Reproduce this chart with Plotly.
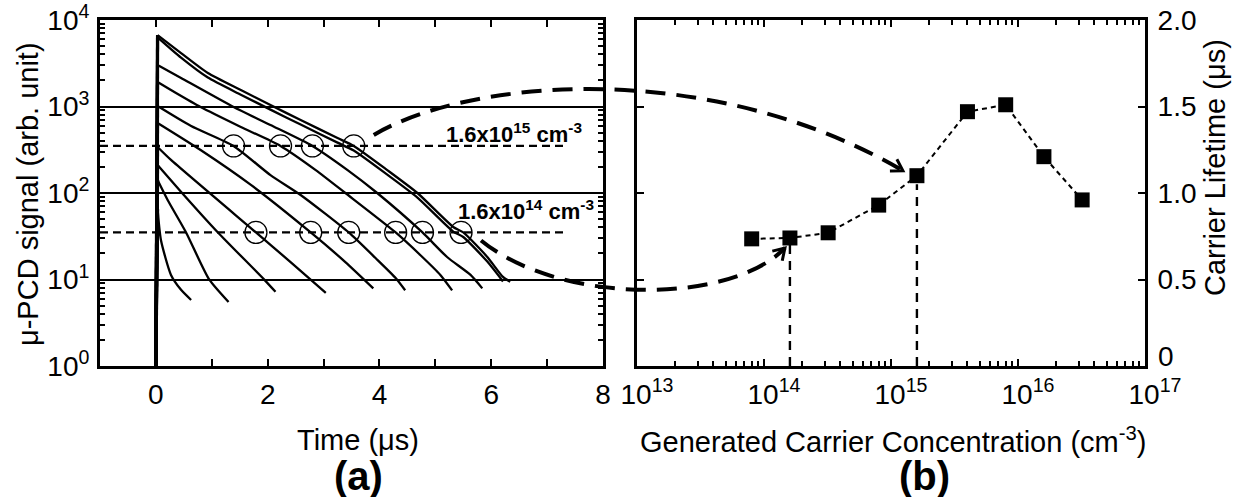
import math
import plotly.graph_objects as go

# ---------------- data: panel (a) decay curves (time in us, signal arb. unit) ----------------
t_A = [0, 0.03, 0.45, 0.93, 1.52, 2.05, 2.59, 3.25, 3.54, 4.14, 4.68, 5.32, 5.5, 5.93, 6.21, 6.34]
s_A = [1, 6700, 4150, 2440, 1550, 1040, 698, 432, 350, 184, 100, 40.5, 35, 18.2, 10.7, 9.4]
t_B = [0, 0.03, 0.45, 0.93, 1.52, 2.05, 2.59, 3.25, 3.54, 4.14, 4.68, 5.32, 5.5, 5.93, 6.21]
s_B = [1, 6300, 3670, 2160, 1370, 920, 618, 382, 310, 163, 88.5, 35.8, 31, 16.1, 9.5]
t_C = [0, 0.03, 0.45, 1.39, 2.05, 2.8, 3.43, 3.96, 4.77, 5.21, 5.63, 5.84]
s_C = [1, 3020, 2135, 987, 611, 350, 184, 100, 35, 18.2, 11.3, 7.9]
t_D = [0, 0.03, 0.36, 0.8, 1.52, 2.23, 2.86, 3.39, 4.29, 4.73, 5.09, 5.3]
s_D = [1, 1920, 1433, 987, 580, 350, 184, 100, 35, 19.2, 11.3, 7.5]
t_E = [0, 0.03, 0.63, 1.39, 2.05, 2.59, 3.45, 3.93, 4.29, 4.46]
s_E = [1, 1013, 595, 350, 161, 94.8, 35, 17.7, 10.4, 7.5]
t_F = [0, 0.03, 0.8, 1.7, 2.77, 3.39, 3.89]
s_F = [1, 645, 314, 124, 35, 15.9, 7.9]
t_G = [0, 0.03, 0.27, 1.79, 2.41, 3.04]
s_G = [1, 340, 241, 35, 15.9, 7.0]
t_H = [0, 0.03, 0.5, 1.11, 1.93, 2.14]
s_H = [1, 211, 95, 35, 10.1, 7.2]
t_I = [0, 0.03, 0.21, 0.54, 0.95, 1.3]
s_I = [1, 141, 83, 35, 10.1, 5.5]
t_J = [0, 0.03, 0.09, 0.27, 0.45, 0.63]
s_J = [1, 65, 28.6, 11.3, 7.6, 5.8]

# reference levels (corresponding to 1.6e15 and 1.6e14 cm^-3)
level_hi = 350
level_lo = 35
level_t = [-1, 7.3]
circ_hi_t = [1.39, 2.23, 2.8, 3.54]
circ_lo_t = [1.79, 2.77, 3.45, 4.29, 4.77, 5.46]

# ---------------- data: panel (b) ----------------
conc = [8e13, 1.6e14, 3.2e14, 8e14, 1.6e15, 4e15, 8e15, 1.6e16, 3.2e16]
lifetime = [0.735, 0.74, 0.77, 0.93, 1.10, 1.47, 1.51, 1.21, 0.96]
mark_conc = [1.6e14, 1.6e15]
mark_life = [0.70, 1.05]

# tick labels
a_xtickvals = [0, 2, 4, 6, 8]
a_xticktext = ["0", "2", "4", "6", "8"]
a_xminorvals = [1, 3, 5, 7]
a_ytickvals = [1, 10, 100, 1000, 10000]
a_yticktext = ["10<sup>0</sup>", "10<sup>1</sup>", "10<sup>2</sup>", "10<sup>3</sup>", "10<sup>4</sup>"]
b_xtickvals = [1e13, 1e14, 1e15, 1e16, 1e17]
b_xticktext = ["10<sup>13</sup>", "10<sup>14</sup>", "10<sup>15</sup>", "10<sup>16</sup>", "10<sup>17</sup>"]
b_ytickvals = [0, 0.5, 1.0, 1.5, 2.0]
b_yticktext = ["0", "0.5", "1.0", "1.5", "2.0"]

# ---------------- layout geometry (pixels) ----------------
W, H = 1238, 497
AX0, AX1 = 100, 603
BX0, BX1 = 637, 1145
PY0, PY1 = 20, 366
FONT = "Liberation Sans, Arial, sans-serif"


def px2paper(x, y):
    return x / W, 1 - y / H


def pa(t, v):
    return AX0 + (t + 1) / 9 * (AX1 - AX0), PY1 - math.log10(v) / 4 * (PY1 - PY0)


def pb(n, tau):
    return BX0 + (math.log10(n) - 13) / 4 * (BX1 - BX0), PY1 - tau / 2 * (PY1 - PY0)


fig = go.Figure()

curves = [(t_A, s_A), (t_B, s_B), (t_C, s_C), (t_D, s_D), (t_E, s_E),
          (t_F, s_F), (t_G, s_G), (t_H, s_H), (t_I, s_I), (t_J, s_J)]
for tt, ss in curves:
    # rising edge (straight) and decay (smooth)
    fig.add_trace(go.Scatter(x=tt[:2], y=ss[:2], mode="lines", line=dict(color="black", width=3.2),
                             xaxis="x", yaxis="y", showlegend=False, hoverinfo="skip"))
    fig.add_trace(go.Scatter(x=tt[1:], y=ss[1:], mode="lines",
                             line=dict(color="black", width=2.3, shape="spline", smoothing=0.6),
                             xaxis="x", yaxis="y", showlegend=False, hoverinfo="skip"))

for lv in (level_hi, level_lo):
    fig.add_trace(go.Scatter(x=level_t, y=[lv, lv], mode="lines",
                             line=dict(color="black", width=2.2, dash="8px,5px"),
                             xaxis="x", yaxis="y", showlegend=False, hoverinfo="skip"))

fig.add_trace(go.Scatter(x=circ_hi_t, y=[level_hi] * len(circ_hi_t), mode="markers",
                         marker=dict(symbol="circle-open", size=22, color="black", line=dict(width=1.3)),
                         xaxis="x", yaxis="y", showlegend=False))
fig.add_trace(go.Scatter(x=circ_lo_t, y=[level_lo] * len(circ_lo_t), mode="markers",
                         marker=dict(symbol="circle-open", size=22, color="black", line=dict(width=1.3)),
                         xaxis="x", yaxis="y", showlegend=False))

# panel (b)
for c, l in zip(mark_conc, mark_life):
    fig.add_trace(go.Scatter(x=[c, c], y=[0, l], mode="lines",
                             line=dict(color="black", width=2.4, dash="9px,7px"),
                             xaxis="x2", yaxis="y2", showlegend=False, hoverinfo="skip"))
fig.add_trace(go.Scatter(x=conc, y=lifetime, mode="lines+markers",
                         line=dict(color="black", width=2, dash="5px,4px"),
                         marker=dict(symbol="square", size=15, color="black"),
                         xaxis="x2", yaxis="y2", showlegend=False))

# ---------------- axes ----------------
common = dict(showline=True, linecolor="black", linewidth=3, mirror="ticks", ticks="inside",
              tickcolor="black", tickwidth=2, ticklen=7, zeroline=False,
              tickfont=dict(family=FONT, size=28, color="black"), automargin=False)

fig.update_layout(
    width=W, height=H, margin=dict(l=0, r=0, t=0, b=0),
    paper_bgcolor="white", plot_bgcolor="white",
    xaxis=dict(domain=[AX0 / W, AX1 / W], range=[-1, 8], tickmode="array",
               tickvals=a_xtickvals, ticktext=a_xticktext, showgrid=False,
               ticklabelstandoff=1, anchor="y",
               minor=dict(tickmode="array", tickvals=a_xminorvals, ticks="inside", ticklen=7,
                          tickwidth=2, tickcolor="black", showgrid=False),
               **common),
    yaxis=dict(domain=[1 - PY1 / H, 1 - PY0 / H], type="log", range=[0, 4], tickmode="array",
               tickvals=a_ytickvals, ticktext=a_yticktext, showgrid=True, gridcolor="black",
               gridwidth=1.5, ticklabelstandoff=2, anchor="x",
               minor=dict(dtick="D1", ticks="inside", ticklen=5, tickwidth=1.5, tickcolor="black",
                          showgrid=False),
               **common),
    xaxis2=dict(domain=[BX0 / W, BX1 / W], type="log", range=[13, 17], tickmode="array",
                tickvals=b_xtickvals, ticktext=b_xticktext, showgrid=False, anchor="y2",
                ticklabelstandoff=1, ticklabelshift=10,
                minor=dict(dtick="D1", ticks="inside", ticklen=5, tickwidth=1.5, tickcolor="black",
                           showgrid=False),
                **common),
    # the "0" label sits slightly raised (see annotation below) to clear the 10^17 label
    yaxis2=dict(domain=[1 - PY1 / H, 1 - PY0 / H], range=[0, 2], tickmode="array",
                tickvals=b_ytickvals[1:], ticktext=b_yticktext[1:], side="right", showgrid=False,
                anchor="x2", ticklabelstandoff=4, **common),
)

# ---------------- titles / labels (annotations) ----------------
ann = []


def add_text(x, y, text, size, bold=False, angle=0, xanchor="center"):
    ann.append(dict(x=x / W, y=1 - y / H, xref="paper", yref="paper", text=text, showarrow=False,
                    textangle=angle, xanchor=xanchor, yanchor="middle",
                    font=dict(family=FONT, size=size, color="black",
                              weight="bold" if bold else "normal")))


add_text(358, 440, "Time (μs)", 29)
add_text(28, 194, "μ-PCD signal (arb. unit)", 29, angle=-90)
add_text(893, 440, "Generated Carrier Concentration (cm<sup>-3</sup>)", 29)
add_text(1215, 168, "Carrier Lifetime (μs)", 29, angle=-90)
add_text(358, 476, "(a)", 40, bold=True)
add_text(924, 476, "(b)", 40, bold=True)
add_text(514, 133, "1.6x10<sup>15</sup> cm<sup>-3</sup>", 22, bold=True)
add_text(526, 210, "1.6x10<sup>14</sup> cm<sup>-3</sup>", 22, bold=True)
_, y0px = pb(1e13, b_ytickvals[0])
add_text(1156, y0px - 10, b_yticktext[0], 28, xanchor="left")
fig.update_layout(annotations=ann)

# ---------------- connecting dashed arrows (anchored on data points) ----------------
shapes = []


def bezier_path(p0, c1, c2, p3):
    pts = [px2paper(*p) for p in (p0, c1, c2, p3)]
    return "M {:.5f},{:.5f} C {:.5f},{:.5f} {:.5f},{:.5f} {:.5f},{:.5f}".format(
        pts[0][0], pts[0][1], pts[1][0], pts[1][1], pts[2][0], pts[2][1], pts[3][0], pts[3][1])


def arrow_head(tip, frm, length=13, ang=32):
    dx, dy = tip[0] - frm[0], tip[1] - frm[1]
    n = math.hypot(dx, dy)
    dx, dy = dx / n, dy / n
    out = []
    for s in (1, -1):
        a = math.radians(ang * s)
        rx = dx * math.cos(a) - dy * math.sin(a)
        ry = dx * math.sin(a) + dy * math.cos(a)
        out.append((tip[0] - length * rx, tip[1] - length * ry))
    p1, t, p2 = px2paper(*out[0]), px2paper(*tip), px2paper(*out[1])
    return "M {:.5f},{:.5f} L {:.5f},{:.5f} L {:.5f},{:.5f}".format(p1[0], p1[1], t[0], t[1], p2[0], p2[1])


# upper arrow: from circle on top curve at 1.6e15 level to the 1.6e15 data point
sx, sy = pa(circ_hi_t[-1], level_hi)
ex, ey = pb(mark_conc[1], lifetime[4])
p0 = (sx + 20, sy - 11)
p3 = (ex - 14, ey - 5)
c1 = (470, 78)
c2 = (710, 58)
shapes.append(dict(type="path", xref="paper", yref="paper", path=bezier_path(p0, c1, c2, p3),
                   line=dict(color="black", width=4, dash="20px,11px")))
shapes.append(dict(type="path", xref="paper", yref="paper", path=arrow_head(p3, c2),
                   line=dict(color="black", width=3)))

# lower arrow: from circle on top curve at 1.6e14 level to the 1.6e14 data point
sx, sy = pa(circ_lo_t[-1], level_lo)
ex, ey = pb(mark_conc[0], lifetime[1])
q0 = (sx + 20, sy + 8)
q3 = (ex - 5, ey + 10)
d1 = (560, 305)
d2 = (730, 305)
shapes.append(dict(type="path", xref="paper", yref="paper", path=bezier_path(q0, d1, d2, q3),
                   line=dict(color="black", width=4, dash="20px,11px")))
shapes.append(dict(type="path", xref="paper", yref="paper", path=arrow_head(q3, d2),
                   line=dict(color="black", width=3)))

fig.update_layout(shapes=shapes)

fig.write_html("out.html")
